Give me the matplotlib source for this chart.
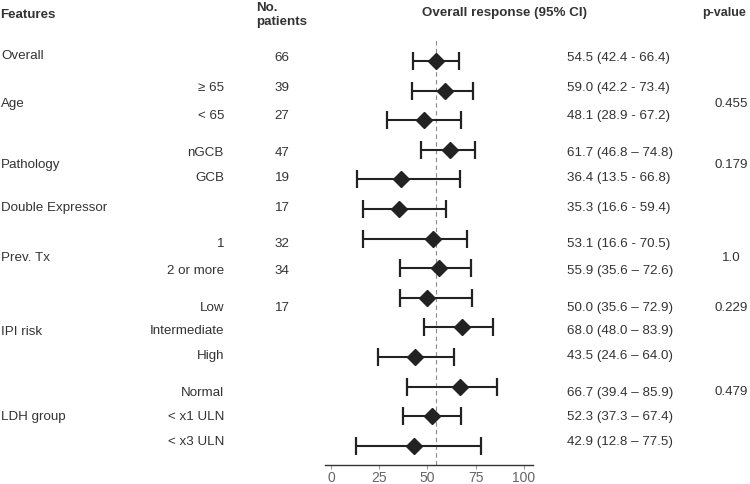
import numpy as np
import matplotlib
matplotlib.use("Agg")
from matplotlib import pyplot as plt

plt.rcParams['font.family'] = ['Liberation Sans', 'DejaVu Sans']

# data
groups = ['Overall', 'Age', 'Pathology', 'Double Expressor', 'Prev. Tx', 'IPI risk', 'LDH group']
subgroups = ['', '≥ 65', '< 65', 'nGCB', 'GCB', '', '1', '2 or more',
             'Low', 'Intermediate', 'High', 'Normal', '< x1 ULN', '< x3 ULN']
n_patients = ['66', '39', '27', '47', '19', '17', '32', '34', '17', '', '', '', '', '']
estimate = [54.5, 59.0, 48.1, 61.7, 36.4, 35.3, 53.1, 55.9, 50.0, 68.0, 43.5, 66.7, 52.3, 42.9]
ci_low = [42.4, 42.2, 28.9, 46.8, 13.5, 16.6, 16.6, 35.6, 35.6, 48.0, 24.6, 39.4, 37.3, 12.8]
ci_high = [66.4, 73.4, 67.2, 74.8, 66.8, 59.4, 70.5, 72.6, 72.9, 83.9, 64.0, 85.9, 67.4, 77.5]
ci_sep = ['-', '-', '-', '–', '-', '-', '-', '–', '–', '–', '–', '–', '–', '–']
p_values = ['', '0.455', '0.179', '', '1.0', '0.229', '0.479']
x_ticks = [0, 25, 50, 75, 100]

# layout (pixels of the 750x484 picture)
W, H = 750, 484
group_y = [56, 104, 165, 208, 258, 332, 417]
pval_y = [0, 104, 165, 0, 258, 308, 392]
text_y = [58, 88, 116, 153, 178, 208, 244, 271, 308, 331, 356, 393, 417, 442]
row_px0, row_step = 61, 29.6

TXT = '#333333'
INK = '#222222'


def fxy(x, y):
    return x / W, 1 - y / H


fig = plt.figure(figsize=(W / 100, H / 100), dpi=100)

# forest axis: x from 325px to 533px, y from 40px to 465px
ax = fig.add_axes([325 / W, 1 - 465 / H, 208 / W, 425 / H])
ax.set_xlim(-3.1, 104.7)
ax.set_ylim((465 - row_px0) / row_step, (40 - row_px0) / row_step)

rows = np.arange(len(estimate))
est = np.array(estimate)
err = np.array([est - np.array(ci_low), np.array(ci_high) - est])
ax.axvline(estimate[0], color='#8a8a8a', lw=0.8, ls=(0, (4, 3)), zorder=1)
ax.errorbar(est, rows, xerr=err, fmt='D', color=INK, ms=8.5, lw=1.5,
            capsize=6.5, capthick=1.6, zorder=3)

for s in ['top', 'right', 'left']:
    ax.spines[s].set_visible(False)
ax.spines['bottom'].set_color('#333333')
ax.spines['bottom'].set_linewidth(1.0)
ax.set_yticks([])
ax.set_xticks(x_ticks)
ax.tick_params(axis='x', length=3, width=0.8, colors='#999999', labelcolor='#666666',
               labelsize=10, pad=1.5)
ax.patch.set_visible(False)

# headers
fs = 9.6
fig.text(*fxy(0, 15), 'Features', ha='left', va='center', fontsize=fs, fontweight='bold', color=TXT)
fig.text(*fxy(256, 15), 'No.\npatients', ha='left', va='center', fontsize=fs, fontweight='bold',
         color=TXT, linespacing=1.15)
fig.text(*fxy(505, 13), 'Overall response (95% CI)', ha='center', va='center', fontsize=fs,
         fontweight='bold', color=TXT)
fig.text(*fxy(746, 13), 'p-value', ha='right', va='center', fontsize=9.0, fontweight='bold', color=TXT)

for g, gy in zip(groups, group_y):
    fig.text(*fxy(1, gy), g, ha='left', va='center', fontsize=fs, color=TXT)

for p, py in zip(p_values, pval_y):
    if p:
        fig.text(*fxy(731, py), p, ha='center', va='center', fontsize=fs, color=TXT)

for i, ty in enumerate(text_y):
    if subgroups[i]:
        fig.text(*fxy(224, ty), subgroups[i], ha='right', va='center', fontsize=fs, color=TXT)
    if n_patients[i]:
        fig.text(*fxy(282, ty), n_patients[i], ha='center', va='center', fontsize=fs, color=TXT)
    label = f'{estimate[i]:.1f} ({ci_low[i]:.1f} {ci_sep[i]} {ci_high[i]:.1f})'
    fig.text(*fxy(567, ty), label, ha='left', va='center', fontsize=fs, color=TXT)

fig.savefig('out.png', dpi=100)
